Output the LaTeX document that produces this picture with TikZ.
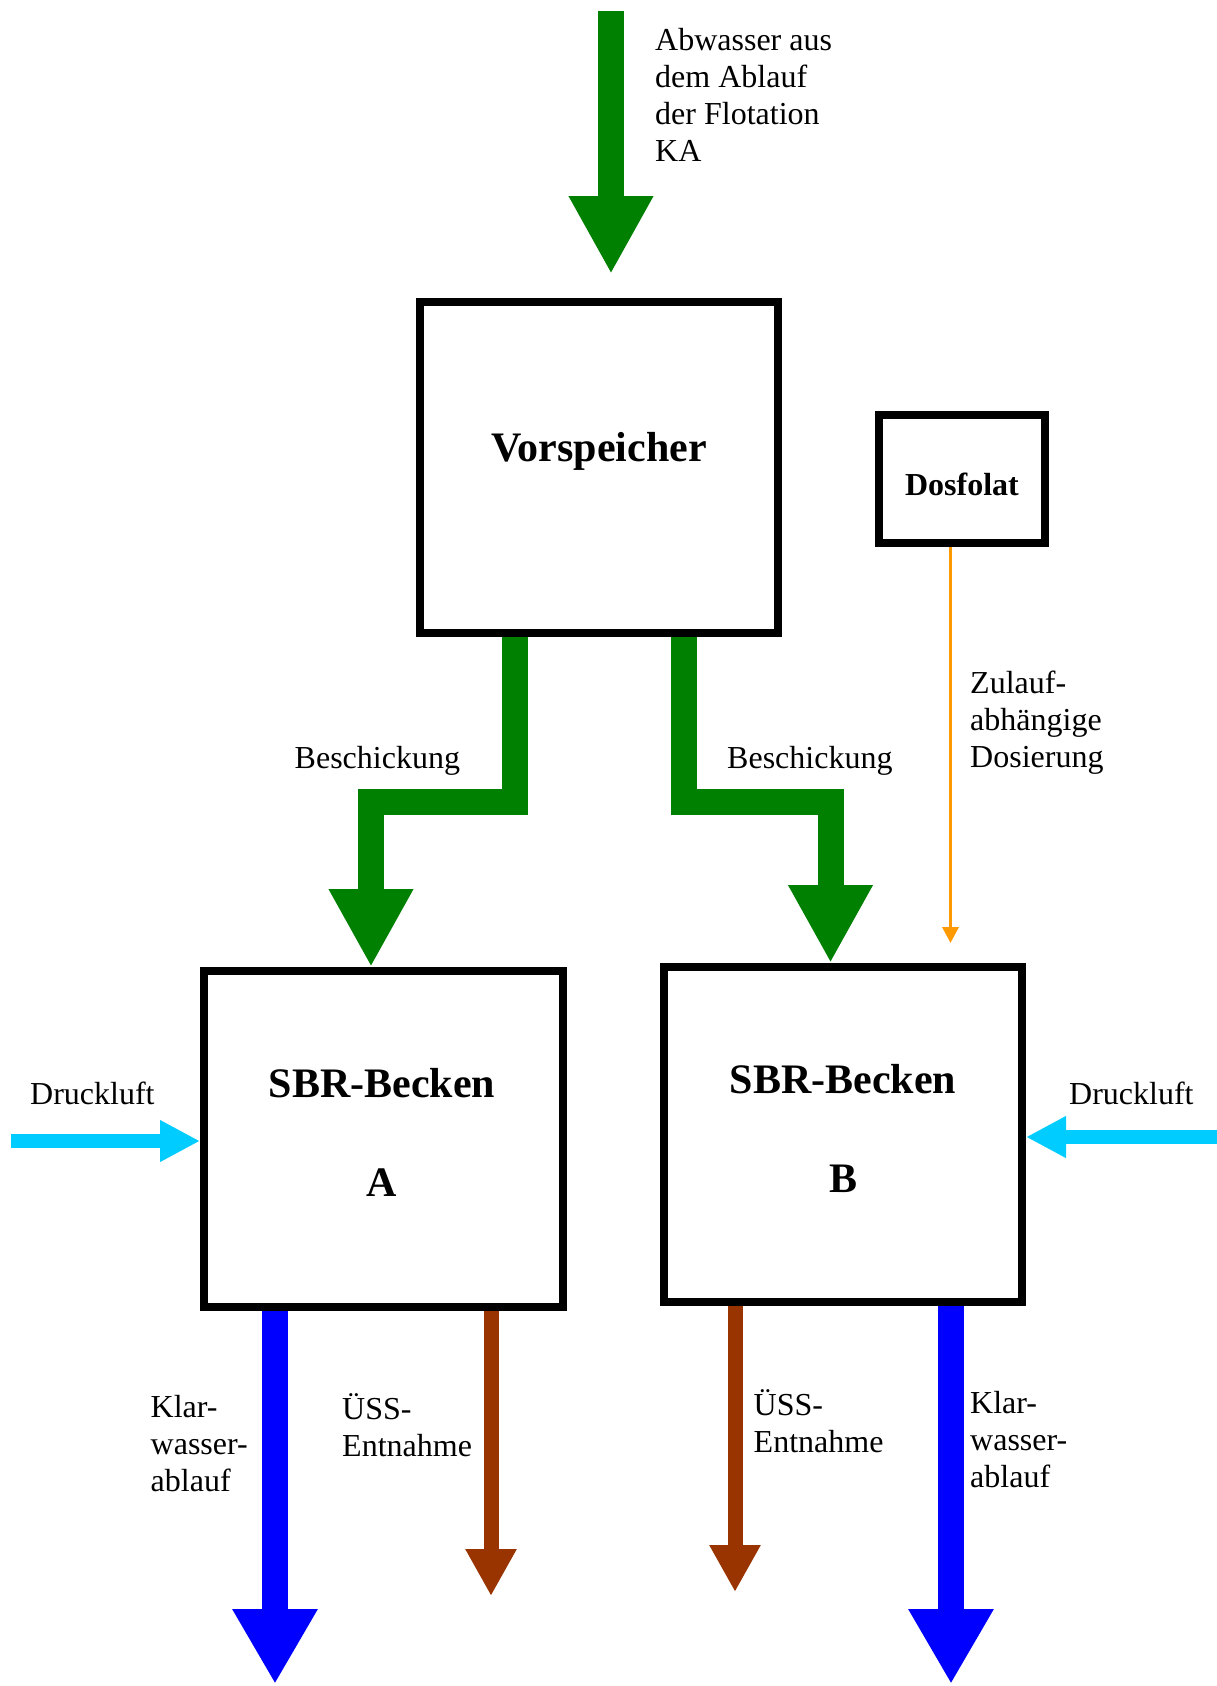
\documentclass[tikz,border=0pt]{standalone}
\usepackage{fontspec}
\setmainfont{Liberation Serif}
\usetikzlibrary{arrows.meta}
\definecolor{flowgreen}{RGB}{0,128,0}
\definecolor{aircyan}{RGB}{0,204,255}
\definecolor{dosorange}{RGB}{255,153,0}
\definecolor{sludgebrown}{RGB}{153,51,0}
\definecolor{clearblue}{RGB}{0,0,255}
\begin{document}
\begin{tikzpicture}[x=1pt,y=-1pt,
  tank/.style={draw=black,line width=8pt,inner sep=0pt},
  lbl/.style={font=\fontsize{32}{37}\selectfont,align=left,inner sep=0pt,anchor=base west},
  title/.style={font=\fontsize{42}{99}\selectfont\bfseries,align=center,inner sep=0pt,anchor=base},
  feed/.style={flowgreen,line width=26pt,-{Triangle[length=78pt,width=79pt]}},
  clear/.style={clearblue,line width=25.5pt,-{Triangle[length=75pt,width=80pt]}},
  sludge/.style={sludgebrown,line width=15pt,-{Triangle[length=47pt,width=48pt]}},
  air/.style={aircyan,line width=13.5pt,-{Triangle[length=40pt,width=39pt]}},
  dose/.style={dosorange,line width=3.5pt,-{Triangle[length=16pt,width=16pt]}}]
\useasboundingbox (0,0) rectangle (1217,1686);
\node[tank,minimum width=358pt,minimum height=331pt] (vor) at (599,467.5) {};
\node[tank,minimum width=359pt,minimum height=336pt] (sbra) at (383.5,1139) {};
\node[tank,minimum width=358pt,minimum height=335pt] (sbrb) at (843,1134.5) {};
\node[tank,minimum width=166pt,minimum height=128pt] (dos) at (962,479) {};
\node[title] (vortxt) at (599,461) {Vorspeicher};
\node[title,font=\fontsize{32}{37}\selectfont\bfseries] (dostxt) at (962,495.5) {Dosfolat};
\node[title] (atxt) at (382,1196) {SBR-Becken\\A};
\node[title] (btxt) at (843,1192) {SBR-Becken\\B};
\node[lbl] (abwtxt) at (655,161) {Abwasser aus\\dem Ablauf\\der Flotation\\KA};
\node[lbl] (beschA) at (294.5,768) {Beschickung};
\node[lbl] (beschB) at (727,768) {Beschickung};
\node[lbl] (zultxt) at (970,767) {Zulauf-\\abhängige\\Dosierung};
\node[lbl] (luftA) at (30,1104) {Druckluft};
\node[lbl] (luftB) at (1069,1104) {Druckluft};
\node[lbl] (klarA) at (150.5,1491) {Klar-\\wasser-\\ablauf};
\node[lbl] (ussA) at (342,1456) {ÜSS-\\Entnahme};
\node[lbl] (ussB) at (753.5,1452) {ÜSS-\\Entnahme};
\node[lbl] (klarB) at (970,1487.5) {Klar-\\wasser-\\ablauf};
\coordinate (abw) at (611,11);
\coordinate (airA) at (11,1141);
\coordinate (airB) at (1217,1137);
\draw[feed] (abw) -- ([xshift=12pt,yshift=24pt]vor.north);
\draw[feed] ([xshift=-84pt]vor.south) -- ++(0,165) -| ([xshift=-12.5pt]sbra.north);
\draw[feed] ([xshift=84.5pt]vor.south) -- ++(0,165) -| ([xshift=-12.5pt]sbrb.north);
\draw[dose] ([xshift=-11.5pt]dos.south) -- ++(0,396);
\draw[air] (airA) -- ([yshift=-2pt]sbra.west);
\draw[air] (airB) -- ([yshift=-2.5pt]sbrb.east);
\draw[clear] ([xshift=-108.5pt]sbra.south) -- ++(0,373);
\draw[sludge] ([xshift=107.5pt]sbra.south) -- ++(0,285);
\draw[sludge] ([xshift=-108pt]sbrb.south) -- ++(0,286);
\draw[clear] ([xshift=108pt]sbrb.south) -- ++(0,378);
\end{tikzpicture}
\end{document}
